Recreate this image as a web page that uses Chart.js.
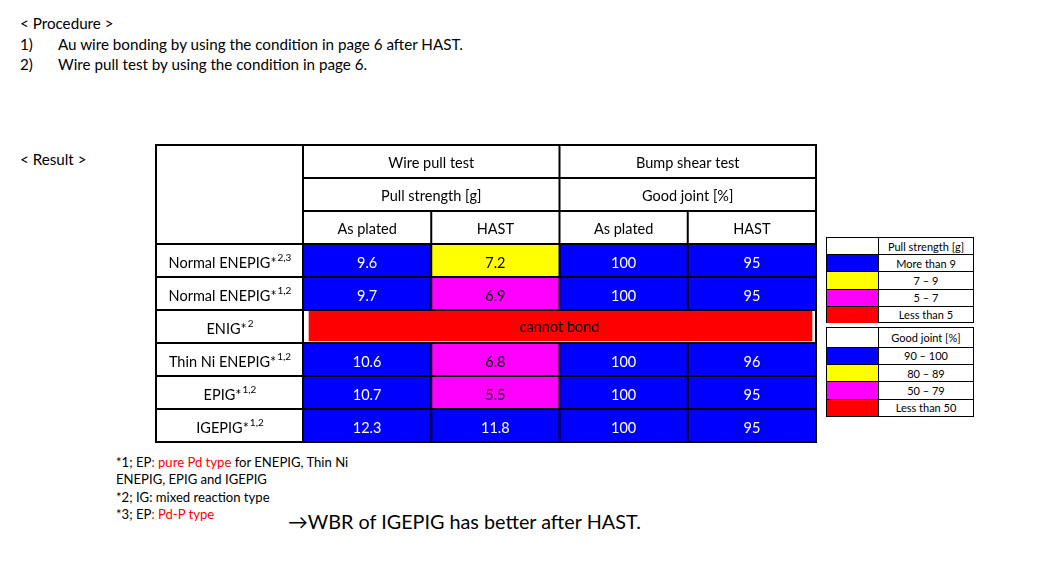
<!DOCTYPE html>
<html>
<head>
<meta charset="utf-8">
<script src="https://cdn.jsdelivr.net/npm/chart.js@4/dist/chart.umd.min.js"></script>
<style>
  body { margin: 0; background: #fff; font-family: Lato, "Noto Sans", sans-serif; color: #000; }
  #page { position: relative; width: 1058px; height: 563px; overflow: hidden; }
  .t { position: absolute; white-space: nowrap; font-size: 15.2px; line-height: 20px; }
  .note { position: absolute; left: 116px; top: 454px; font-size: 13.1px; line-height: 17.3px; white-space: nowrap; }
  .red { color: #ff0000; }
  #tableWrap { position: absolute; left: 155px; top: 144px; width: 663px; height: 300px; }
  .legend { position: absolute; left: 826px; width: 148px; box-sizing: border-box; border: 1px solid #000; font-size: 11px; }
  .legend .row { position: absolute; left: 0; right: 0; box-sizing: border-box; }
  .legend .row.sep { border-top: 1px solid #000; }
  .legend .sw { position: absolute; left: 0; top: 0; bottom: 0; width: 51px; }
  .legend .lb { position: absolute; left: 52px; right: 0; top: 0; bottom: 0; text-align: center; display: flex; align-items: center; justify-content: center; }
  .legend .div { position: absolute; left: 51px; top: 0; bottom: 0; width: 1px; background: #000; }
</style>
</head>
<body>
<div id="page">
  <div class="t" style="left:20px;top:13px;">&lt; Procedure &gt;</div>
  <div class="t" style="left:20px;top:34px;">1)</div>
  <div class="t" style="left:58px;top:34px;">Au wire bonding by using the condition in page 6 after HAST.</div>
  <div class="t" style="left:20px;top:54px;">2)</div>
  <div class="t" style="left:58px;top:54px;">Wire pull test by using the condition in page 6.</div>
  <div class="t" style="left:20px;top:149px;">&lt; Result &gt;</div>

  <div id="tableWrap"><canvas id="resultChart"></canvas></div>

  <div class="legend" id="pullLegend" style="top:237px;height:86px;"></div>
  <div class="legend" id="jointLegend" style="top:327px;height:90px;"></div>

  <div class="note">
    *1; EP<span class="red">: pure Pd type</span> for ENEPIG, Thin Ni<br>
    ENEPIG, EPIG and IGEPIG<br>
    *2; IG: mixed reaction type<br>
    *3; EP<span class="red">: Pd-P type</span>
  </div>
  <div class="t" style="left:288px;top:509px;font-size:19.8px;line-height:24px;">&rarr;WBR of IGEPIG has better after HAST.</div>
</div>

<script>
// rows of the result table
const materials = ["Normal ENEPIG", "Normal ENEPIG", "ENIG", "Thin Ni ENEPIG", "EPIG", "IGEPIG"];
const materialNotes = ["2,3", "1,2", "2", "1,2", "1,2", "1,2"];

// values (null = cannot bond)
const pullAsPlated = [9.6, 9.7, null, 10.6, 10.7, 12.3];
const pullHast = [7.2, 6.9, null, 6.8, 5.5, 11.8];
const jointAsPlated = [100, 100, null, 100, 100, 100];
const jointHast = [95, 95, null, 96, 95, 95];
const cannotBond = [false, false, true, false, false, false];

// header texts
const testGroups = ["Wire pull test", "Bump shear test"];
const unitLabels = ["Pull strength [g]", "Good joint [%]"];
const columnLabels = ["As plated", "HAST", "As plated", "HAST"];

// colour bands (lower limits)
const pullLimits = [9, 7, 5];
const jointLimits = [90, 80, 50];
const pullLegendText = ["More than 9", "7 \u2013 9", "5 \u2013 7", "Less than 5"];
const jointLegendText = ["90 \u2013 100", "80 \u2013 89", "50 \u2013 79", "Less than 50"];

const bandColors = ["#0000ff", "#ffff00", "#ff00ff", "#ff0000"];
const FONT = 'Lato, "Noto Sans", sans-serif';
const LABEL_COL = 147;

function bandIndex(v, limits) {
    for (let i = 0; i < limits.length; i++) {
        if (v >= limits[i]) return i;
    }
    return limits.length;
}

const columns = [
    { values: pullAsPlated, limits: pullLimits, digits: 1 },
    { values: pullHast, limits: pullLimits, digits: 1 },
    { values: jointAsPlated, limits: jointLimits, digits: 0 },
    { values: jointHast, limits: jointLimits, digits: 0 }
];

const datasets = columns.map((col, c) => ({
    data: col.values.map(v => v == null ? null : [c, c + 1]),
    backgroundColor: col.values.map(v => v == null ? "transparent" : bandColors[bandIndex(v, col.limits)]),
    borderWidth: 0
}));

// merged "cannot bond" cell
datasets.push({
    data: cannotBond.map(b => b ? [0, columns.length] : null),
    backgroundColor: "#ff0000",
    borderColor: "#ffffff",
    borderWidth: { left: 6, right: 4, bottom: 2, top: 0 },
    borderSkipped: false
});

// legend boxes: header row height, then one row per band
function buildLegend(id, title, texts, headH, rowH) {
    const box = document.getElementById(id);
    let html = '<div class="row" style="top:0;height:' + headH + 'px"><div class="lb">' + title + '</div></div>';
    texts.forEach((t, i) => {
        const top = headH + i * rowH;
        html += '<div class="row sep" style="top:' + top + 'px;height:' + rowH + 'px">' +
            '<div class="sw" style="background:' + bandColors[i] + '"></div>' +
            '<div class="lb">' + t + '</div></div>';
    });
    html += '<div class="div"></div>';
    box.innerHTML = html;
}
buildLegend("pullLegend", unitLabels[0], pullLegendText, 16, 17.25);
buildLegend("jointLegend", unitLabels[1], jointLegendText, 18.5, 17.4);

const tablePlugin = {
    id: "tableGrid",
    afterDatasetsDraw(chart) {
        const ctx = chart.ctx;
        const xs = chart.scales.x;
        const ys = chart.scales.y;
        const area = chart.chartArea;
        const rowH = ys.getPixelForValue(1) - ys.getPixelForValue(0);
        const colX = i => xs.getPixelForValue(i);
        const rowTop = i => ys.getPixelForValue(i) - rowH / 2;
        const L = area.left - LABEL_COL;
        const T = area.top - 3 * rowH;
        const R = area.right;
        const B = area.bottom;

        ctx.save();
        ctx.textBaseline = "middle";
        ctx.textAlign = "center";

        // header
        ctx.fillStyle = "#000";
        ctx.font = "14.5px " + FONT;
        testGroups.forEach((g, k) => {
            ctx.fillText(g, (colX(2 * k) + colX(2 * k + 2)) / 2, T + rowH / 2 + 1.5);
            ctx.fillText(unitLabels[k], (colX(2 * k) + colX(2 * k + 2)) / 2, T + rowH * 1.5 + 1.5);
        });
        columnLabels.forEach((lab, c) => {
            ctx.fillText(lab, (colX(c) + colX(c + 1)) / 2, T + rowH * 2.5 + 1.5);
        });

        // cell values
        columns.forEach((col, c) => {
            col.values.forEach((v, r) => {
                if (v == null) return;
                const band = bandIndex(v, col.limits);
                ctx.fillStyle = band === 0 ? "#ffffff" : "#000000";
                ctx.fillText(v.toFixed(col.digits), (colX(c) + colX(c + 1)) / 2, ys.getPixelForValue(r) + 3);
            });
        });
        cannotBond.forEach((b, r) => {
            if (!b) return;
            ctx.fillStyle = "#000";
            ctx.fillText("cannot bond", (colX(0) + colX(columns.length)) / 2, ys.getPixelForValue(r) + 1);
        });

        // row labels with superscript notes
        materials.forEach((name, r) => {
            const main = name + "*";
            ctx.font = "14.5px " + FONT;
            const w1 = ctx.measureText(main).width;
            ctx.font = "10px " + FONT;
            const w2 = ctx.measureText(materialNotes[r]).width;
            const start = L + LABEL_COL / 2 - (w1 + w2) / 2;
            const cy = ys.getPixelForValue(r) + 3;
            ctx.textAlign = "left";
            ctx.fillStyle = "#000";
            ctx.font = "14.5px " + FONT;
            ctx.fillText(main, start, cy);
            ctx.font = "10px " + FONT;
            ctx.fillText(materialNotes[r], start + w1 + 1, cy - 6);
            ctx.textAlign = "center";
        });

        // grid lines
        ctx.strokeStyle = "#000";
        ctx.lineWidth = 2;
        ctx.beginPath();
        const hline = (y, x0, x1) => { ctx.moveTo(x0, y); ctx.lineTo(x1, y); };
        const vline = (x, y0, y1) => { ctx.moveTo(x, y0); ctx.lineTo(x, y1); };
        hline(T, L - 1, R + 1);
        hline(T + rowH, area.left, R);
        hline(T + 2 * rowH, area.left, R);
        for (let r = 0; r <= materials.length; r++) {
            hline(r === 0 ? area.top : rowTop(r), L, R);
        }
        hline(B, L - 1, R + 1);
        vline(L, T, B);
        vline(area.left, T, B);
        vline(R, T, B);
        for (let c = 1; c < columns.length; c++) {
            const yStart = c === 2 ? T : T + 2 * rowH;
            let y0 = yStart;
            materials.forEach((m, r) => {
                if (cannotBond[r]) {
                    vline(colX(c), y0, rowTop(r));
                    y0 = rowTop(r) + rowH;
                }
            });
            vline(colX(c), y0, B);
        }
        ctx.stroke();
        ctx.restore();
    }
};

new Chart(document.getElementById("resultChart"), {
    type: "bar",
    data: { labels: materials, datasets: datasets },
    options: {
        indexAxis: "y",
        responsive: true,
        maintainAspectRatio: false,
        animation: false,
        layout: { padding: { left: LABEL_COL + 1, top: 100, right: 2, bottom: 2 } },
        datasets: { bar: { grouped: false, barPercentage: 1, categoryPercentage: 1 } },
        scales: {
            x: { type: "linear", min: 0, max: columns.length, display: false },
            y: { type: "category", display: false, offset: true }
        },
        plugins: { legend: { display: false }, tooltip: { enabled: false } }
    },
    plugins: [tablePlugin]
});
</script>
</body>
</html>
